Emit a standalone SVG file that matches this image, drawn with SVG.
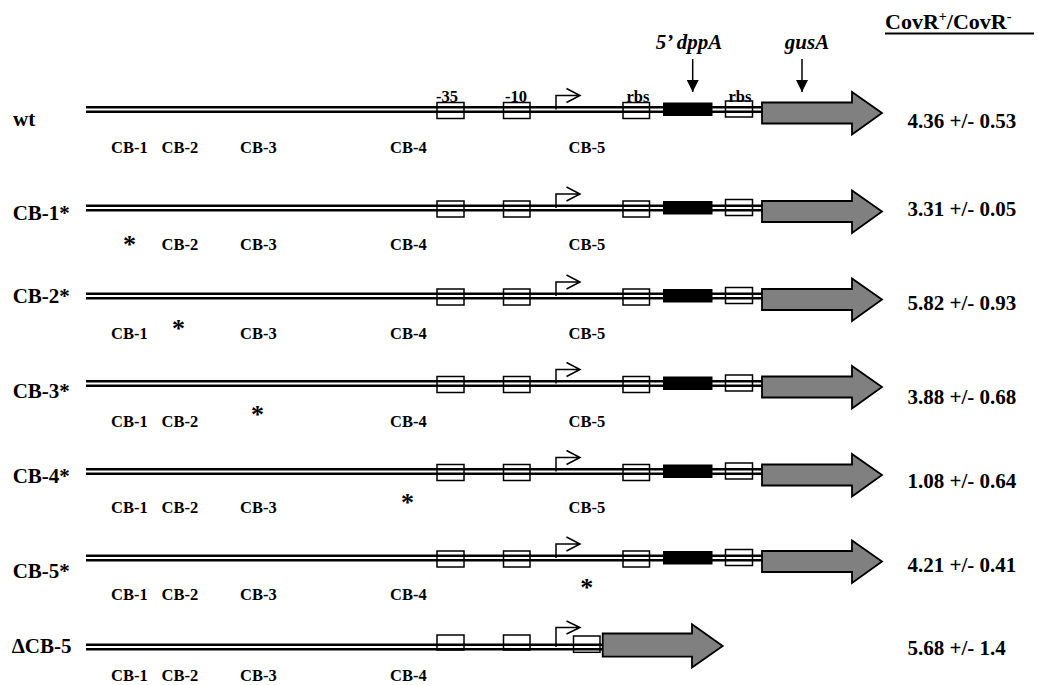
<svg xmlns="http://www.w3.org/2000/svg" xmlns:xlink="http://www.w3.org/1999/xlink" width="1038" height="685" viewBox="0 0 1038 685">
<style>
text{font-family:"Liberation Serif","Times New Roman",serif;font-weight:bold;fill:#000}
.lbl{font-size:21px}
.val{font-size:21px}
.sub{font-size:16.5px}
.site{font-size:16.5px;text-anchor:middle}
.ast{font-size:26px;text-anchor:middle}
.hdr{font-size:22px}
.gene{font-size:21px;font-style:italic;text-anchor:middle}
.dlb{fill:none;stroke:#000;stroke-width:7}
.dlw{fill:none;stroke:#fff;stroke-width:1.8}
.box{fill:none;stroke:#000;stroke-width:1.5}
.blk{fill:#000;stroke:#000;stroke-width:1}
.prom{fill:none;stroke:#000;stroke-width:1.5}
.gus{fill:#808080;stroke:#000;stroke-width:1.8;stroke-linejoin:miter}
.conn{fill:none;stroke:#000;stroke-width:1.5}
</style>
<defs>
<marker id="ah" viewBox="0 0 12 12" refX="12" refY="6" markerWidth="12" markerHeight="12" markerUnits="userSpaceOnUse" orient="auto">
<path d="M0,0 L12,6 L0,12 Z" fill="#000"/>
</marker>
<g id="construct">
<path class="dlb" d="M86,0 H763"/>
<path class="dlw" d="M86,0 H763"/>
<rect class="box" x="437" y="-7" width="27" height="16"/>
<rect class="box" x="503.5" y="-7" width="26.5" height="16"/>
<path class="prom" d="M556,0 V-14 H580 M566.5,-21 L580,-14 L566.5,-7"/>
<rect class="box" x="623" y="-7" width="26.5" height="16"/>
<rect class="blk" x="663.5" y="-6.5" width="48.5" height="12.5"/>
<rect class="box" x="725.5" y="-8.5" width="27" height="16"/>
<polygon class="gus" points="762,-7 852,-7 852,-17.5 882,3.5 852,25 852,14 762,14"/>
</g>
</defs>

<g id="header">
<text class="hdr" x="885" y="29">CovR<tspan font-size="14" dy="-8">+</tspan><tspan dy="8">/CovR</tspan><tspan font-size="14" dy="-8">-</tspan></text>
<line x1="885" y1="33.5" x2="1034" y2="33.5" stroke="#000" stroke-width="2"/>
<text class="gene" x="689" y="49">5’ dppA</text>
<text class="gene" x="807" y="49">gusA</text>
</g>

<g id="connectors">
<line class="conn" x1="692.7" y1="59" x2="692.7" y2="92" marker-end="url(#ah)"/>
<line class="conn" x1="802" y1="59" x2="802" y2="92" marker-end="url(#ah)"/>
</g>

<g id="row-wt">
<use xlink:href="#construct" href="#construct" y="109.5"/>
<text class="site" x="447" y="102">-35</text>
<text class="site" x="516" y="102">-10</text>
<text class="site" x="638" y="102">rbs</text>
<text class="site" x="740" y="102">rbs</text>
<text class="lbl" x="13" y="126">wt</text>
<text class="sub" x="111" y="153">CB-1</text>
<text class="sub" x="161.5" y="153">CB-2</text>
<text class="sub" x="240" y="153">CB-3</text>
<text class="sub" x="390" y="153">CB-4</text>
<text class="sub" x="568.5" y="153">CB-5</text>
<text class="val" x="907.5" y="128.3">4.36 +/- 0.53</text>
</g>

<g id="row-cb1">
<use xlink:href="#construct" href="#construct" y="208"/>
<text class="lbl" x="12.7" y="220">CB-1*</text>
<text class="ast" x="129.5" y="253">*</text>
<text class="sub" x="161.5" y="250">CB-2</text>
<text class="sub" x="240" y="250">CB-3</text>
<text class="sub" x="390" y="250">CB-4</text>
<text class="sub" x="568.5" y="250">CB-5</text>
<text class="val" x="907.5" y="215.5">3.31 +/- 0.05</text>
</g>

<g id="row-cb2">
<use xlink:href="#construct" href="#construct" y="296"/>
<text class="lbl" x="12.7" y="303">CB-2*</text>
<text class="sub" x="111" y="339">CB-1</text>
<text class="ast" x="178.5" y="337">*</text>
<text class="sub" x="240" y="339">CB-3</text>
<text class="sub" x="390" y="339">CB-4</text>
<text class="sub" x="568.5" y="339">CB-5</text>
<text class="val" x="907.5" y="310">5.82 +/- 0.93</text>
</g>

<g id="row-cb3">
<use xlink:href="#construct" href="#construct" y="383.5"/>
<text class="lbl" x="12.7" y="398">CB-3*</text>
<text class="sub" x="111" y="426.5">CB-1</text>
<text class="sub" x="161.5" y="426.5">CB-2</text>
<text class="ast" x="257.5" y="422.5">*</text>
<text class="sub" x="390" y="426.5">CB-4</text>
<text class="sub" x="568.5" y="426.5">CB-5</text>
<text class="val" x="907.5" y="404">3.88 +/- 0.68</text>
</g>

<g id="row-cb4">
<use xlink:href="#construct" href="#construct" y="471.5"/>
<text class="lbl" x="12.7" y="483">CB-4*</text>
<text class="sub" x="111" y="513">CB-1</text>
<text class="sub" x="161.5" y="513">CB-2</text>
<text class="sub" x="240" y="513">CB-3</text>
<text class="ast" x="407.5" y="511">*</text>
<text class="sub" x="568.5" y="513">CB-5</text>
<text class="val" x="907.5" y="488.3">1.08 +/- 0.64</text>
</g>

<g id="row-cb5">
<use xlink:href="#construct" href="#construct" y="558"/>
<text class="lbl" x="12.7" y="578">CB-5*</text>
<text class="sub" x="111" y="600">CB-1</text>
<text class="sub" x="161.5" y="600">CB-2</text>
<text class="sub" x="240" y="600">CB-3</text>
<text class="sub" x="390" y="600">CB-4</text>
<text class="ast" x="586.7" y="596">*</text>
<text class="val" x="907.5" y="572">4.21 +/- 0.41</text>
</g>

<g id="row-dcb5">
<path class="dlb" d="M86,647 H604"/>
<path class="dlw" d="M86,647 H604"/>
<rect class="box" x="437" y="635" width="27" height="15"/>
<rect class="box" x="503.5" y="635" width="26.5" height="15"/>
<path class="prom" d="M556,647 V627.5 H580 M566.5,621 L580,627.5 L566.5,634"/>
<rect class="box" x="573.5" y="636" width="26.5" height="16.3"/>
<polygon class="gus" points="602.7,633.5 692,633.5 692,624.3 722.7,646 692,667.5 692,656.7 602.7,656.7"/>
<text class="lbl" x="11.7" y="653">ΔCB-5</text>
<text class="sub" x="111" y="681">CB-1</text>
<text class="sub" x="161.5" y="681">CB-2</text>
<text class="sub" x="240" y="681">CB-3</text>
<text class="sub" x="390" y="681">CB-4</text>
<text class="val" x="907.5" y="655">5.68 +/- 1.4</text>
</g>
</svg>
